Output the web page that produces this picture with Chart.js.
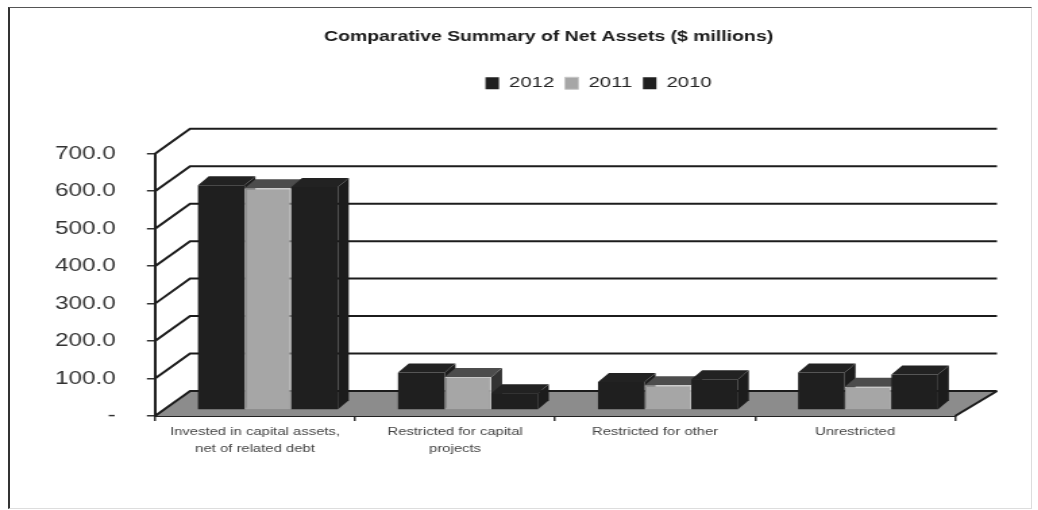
<!DOCTYPE html>
<html>
<head>
<meta charset="utf-8">
<script src="https://cdn.jsdelivr.net/npm/chart.js@4"></script>
<style>
  html, body { margin: 0; padding: 0; background: #fff; overflow: hidden; }
  /* the source is a soft scan stretched sideways, text included */
  #netAssets { position: absolute; left: 0; top: 0; transform: scaleX(1.35); transform-origin: 0 0; filter: blur(0.5px); }
  #frame { position: absolute; z-index: 2; left: 8px; top: 7px; width: 1021px; height: 500px; box-sizing: content-box; border: 1px solid #ddd; border-top: 1px solid #555; border-left: 2px solid #333; }
</style>
</head>
<body>
<canvas id="netAssets" width="769" height="510"></canvas>
<div id="frame"></div>
<script>
var categories = [
    ['Invested in capital assets,', 'net of related debt'],
    ['Restricted for capital', 'projects'],
    'Restricted for other',
    'Unrestricted'
];
var values2012 = [600, 100, 75, 100];
var values2011 = [592, 88, 66, 62];
var values2010 = [595, 45, 82, 95];
var yTicks = [0, 100, 200, 300, 400, 500, 600, 700];

// the wall runs off up and to the right, bars stand part way along the floor
var wallLeft = 26, wallRight = 31, wallRise = 25;
var barShift = 9.6, barRise = 6;
var depthX = 8, depthY = 9;

function drawBarFaces(ctx, meta, ds) {
    meta.data.forEach(function (bar) {
        var l = bar.x - bar.width / 2, r = bar.x + bar.width / 2;
        // right side
        ctx.fillStyle = ds.sideColor;
        ctx.beginPath();
        ctx.moveTo(r, bar.y);
        ctx.lineTo(r + depthX, bar.y - depthY);
        ctx.lineTo(r + depthX, bar.base - depthY);
        ctx.lineTo(r, bar.base);
        ctx.closePath();
        ctx.fill();
        // top
        ctx.fillStyle = ds.topColor;
        ctx.beginPath();
        ctx.moveTo(l, bar.y);
        ctx.lineTo(l + depthX, bar.y - depthY);
        ctx.lineTo(r + depthX, bar.y - depthY);
        ctx.lineTo(r, bar.y);
        ctx.closePath();
        ctx.fill();
    });
}

var wallPlugin = {
    id: 'wall',
    beforeDatasetsDraw: function (chart) {
        var ctx = chart.ctx, area = chart.chartArea, y = chart.scales.y;
        ctx.save();
        ctx.fillStyle = '#8c8c8c';
        ctx.beginPath();
        ctx.moveTo(area.left, area.bottom);
        ctx.lineTo(area.left + wallLeft, area.bottom - wallRise);
        ctx.lineTo(area.right + wallRight, area.bottom - wallRise);
        ctx.lineTo(area.right, area.bottom);
        ctx.closePath();
        ctx.fill();
        ctx.strokeStyle = '#1c1c1c';
        ctx.lineWidth = 2;
        yTicks.forEach(function (v) {
            var py = y.getPixelForValue(v);
            ctx.beginPath();
            ctx.moveTo(area.left, py);
            ctx.lineTo(area.left + wallLeft, py - wallRise);
            ctx.lineTo(area.right + wallRight, py - wallRise);
            ctx.stroke();
        });
        ctx.beginPath();
        ctx.moveTo(area.right, area.bottom);
        ctx.lineTo(area.right + wallRight, area.bottom - wallRise);
        ctx.stroke();
        ctx.restore();
    },
    // Chart.js paints the last dataset first, these have to go left to right
    beforeDatasetDraw: function () {
        return false;
    },
    afterDatasetsDraw: function (chart) {
        var ctx = chart.ctx;
        ctx.save();
        ctx.translate(barShift, -barRise);
        chart.data.datasets.forEach(function (ds, i) {
            var meta = chart.getDatasetMeta(i);
            drawBarFaces(ctx, meta, ds);
            meta.controller.draw();
        });
        ctx.restore();
    },
    afterLayout: function (chart) {
        // title and legend are off centre, the legend closer to the title than the plot
        chart.titleBlock.left += 52.6;
        chart.titleBlock.right += 52.6;
        chart.legend.left += 89.6;
        chart.legend.right += 89.6;
        chart.legend.top -= 53;
        chart.legend.bottom -= 53;
    }
};

new Chart(document.getElementById('netAssets').getContext('2d'), {
    type: 'bar',
    data: {
        labels: categories,
        datasets: [
            { label: '2012', data: values2012, backgroundColor: '#1f1f1f', sideColor: '#1c1c1c', topColor: '#222222' },
            { label: '2011', data: values2011, backgroundColor: '#a6a6a6', borderColor: '#c8c8c8', borderWidth: 1, sideColor: '#333333', topColor: '#4c4c4c' },
            { label: '2010', data: values2010, backgroundColor: '#1f1f1f', sideColor: '#1c1c1c', topColor: '#222222' }
        ]
    },
    options: {
        responsive: false,
        animation: false,
        devicePixelRatio: 1,
        layout: { padding: { left: 0, right: 61.5, top: 0, bottom: 0 } },
        datasets: { bar: { categoryPercentage: 0.7, barPercentage: 1 } },
        scales: {
            x: {
                grid: { drawOnChartArea: false, color: '#333', tickLength: 5, lineWidth: 1.5 },
                border: { color: '#222', width: 2 },
                ticks: { color: '#444', font: { family: 'Liberation Sans', size: 11, lineHeight: 1.5 }, maxRotation: 0, autoSkip: false, padding: 3 },
                afterFit: function (scale) { scale.height = 94; }
            },
            y: {
                min: 0, max: 700,
                afterBuildTicks: function (scale) {
                    scale.ticks = yTicks.map(function (v) { return { value: v }; });
                },
                grid: { drawOnChartArea: false, color: '#333', tickLength: 6, lineWidth: 1.5 },
                border: { color: '#222', width: 2 },
                ticks: {
                    color: '#333', font: { family: 'Liberation Sans', size: 18 }, padding: 23,
                    callback: function (v) { return v === 0 ? '-' : v.toFixed(1); }
                },
                afterFit: function (scale) { scale.width = 114.8; }
            }
        },
        plugins: {
            title: {
                display: true,
                text: 'Comparative Summary of Net Assets ($ millions)',
                color: '#1a1a1a',
                font: { family: 'Liberation Sans', size: 14.4, weight: 'bold' },
                padding: { top: 28, bottom: 75.5 }
            },
            legend: {
                display: true,
                position: 'top',
                labels: {
                    color: '#222', font: { family: 'Liberation Sans', size: 15 }, boxWidth: 10, boxHeight: 12, padding: 8
                }
            },
            tooltip: { enabled: false }
        }
    },
    plugins: [wallPlugin]
});
</script>
</body>
</html>
